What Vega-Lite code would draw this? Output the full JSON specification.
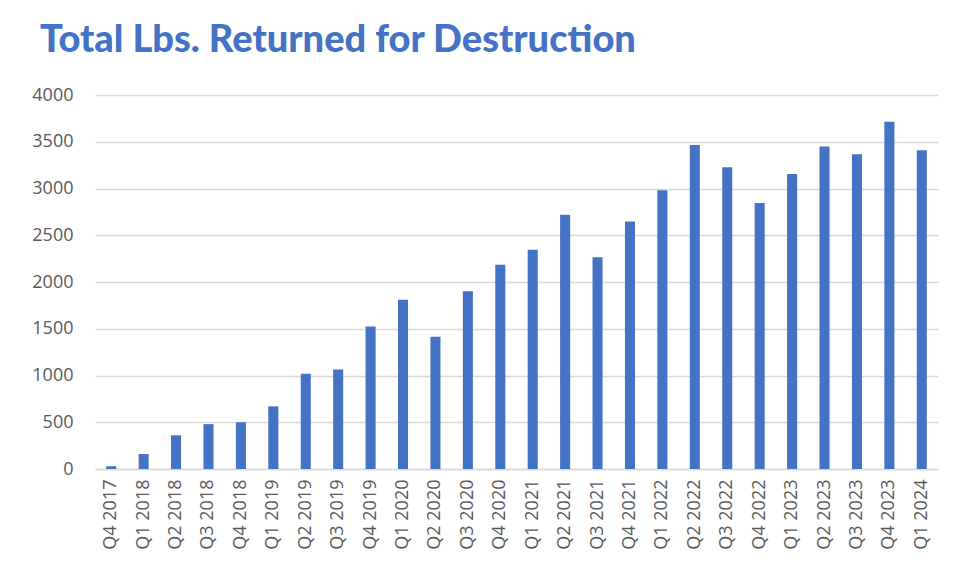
{
  "$schema": "https://vega.github.io/schema/vega-lite/v6.json",
  "autosize": "none",
  "width": 843,
  "height": 374,
  "padding": {"left": 95, "top": 95, "right": 20, "bottom": 113},
  "background": "white",
  "title": {
    "text": "Total Lbs. Returned for Destruction",
    "anchor": "start",
    "frame": "group",
    "dx": -55,
    "offset": 0,
    "dy": 4,
    "baseline": "alphabetic",
    "font": "Lato",
    "fontSize": 38,
    "fontWeight": 900,
    "color": "#4472C4"
  },
  "data": {
    "values": [
      {"quarter": "Q4 2017", "lbs": 30},
      {"quarter": "Q1 2018", "lbs": 160},
      {"quarter": "Q2 2018", "lbs": 360},
      {"quarter": "Q3 2018", "lbs": 480},
      {"quarter": "Q4 2018", "lbs": 500},
      {"quarter": "Q1 2019", "lbs": 670},
      {"quarter": "Q2 2019", "lbs": 1020},
      {"quarter": "Q3 2019", "lbs": 1065},
      {"quarter": "Q4 2019", "lbs": 1525},
      {"quarter": "Q1 2020", "lbs": 1810},
      {"quarter": "Q2 2020", "lbs": 1415},
      {"quarter": "Q3 2020", "lbs": 1900},
      {"quarter": "Q4 2020", "lbs": 2185},
      {"quarter": "Q1 2021", "lbs": 2345},
      {"quarter": "Q2 2021", "lbs": 2720},
      {"quarter": "Q3 2021", "lbs": 2265},
      {"quarter": "Q4 2021", "lbs": 2648},
      {"quarter": "Q1 2022", "lbs": 2982},
      {"quarter": "Q2 2022", "lbs": 3466},
      {"quarter": "Q3 2022", "lbs": 3227},
      {"quarter": "Q4 2022", "lbs": 2846},
      {"quarter": "Q1 2023", "lbs": 3155},
      {"quarter": "Q2 2023", "lbs": 3448},
      {"quarter": "Q3 2023", "lbs": 3366},
      {"quarter": "Q4 2023", "lbs": 3715},
      {"quarter": "Q1 2024", "lbs": 3409}
    ]
  },
  "mark": {"type": "bar", "color": "#4472C4"},
  "encoding": {
    "x": {
      "field": "quarter",
      "type": "nominal",
      "sort": null,
      "scale": {"paddingInner": 0.69, "paddingOuter": 0.345},
      "axis": {
        "title": null,
        "labelAngle": -90,
        "labelAlign": "right",
        "labelBaseline": "middle",
        "labelFont": "Open Sans",
        "labelFontSize": 18,
        "labelColor": "#595959",
        "labelPadding": 10,
        "ticks": false,
        "domainColor": "#D9D9D9",
        "domainWidth": 1.5
      }
    },
    "y": {
      "field": "lbs",
      "type": "quantitative",
      "scale": {"domain": [0, 4000], "nice": false},
      "axis": {
        "title": null,
        "format": "d",
        "values": [0, 500, 1000, 1500, 2000, 2500, 3000, 3500, 4000],
        "labelFont": "Open Sans",
        "labelFontSize": 18,
        "labelColor": "#595959",
        "labelPadding": 22,
        "ticks": false,
        "domain": false,
        "gridColor": "#D9D9D9",
        "gridWidth": 1.5
      }
    }
  },
  "config": {
    "view": {"stroke": null}
  }
}
